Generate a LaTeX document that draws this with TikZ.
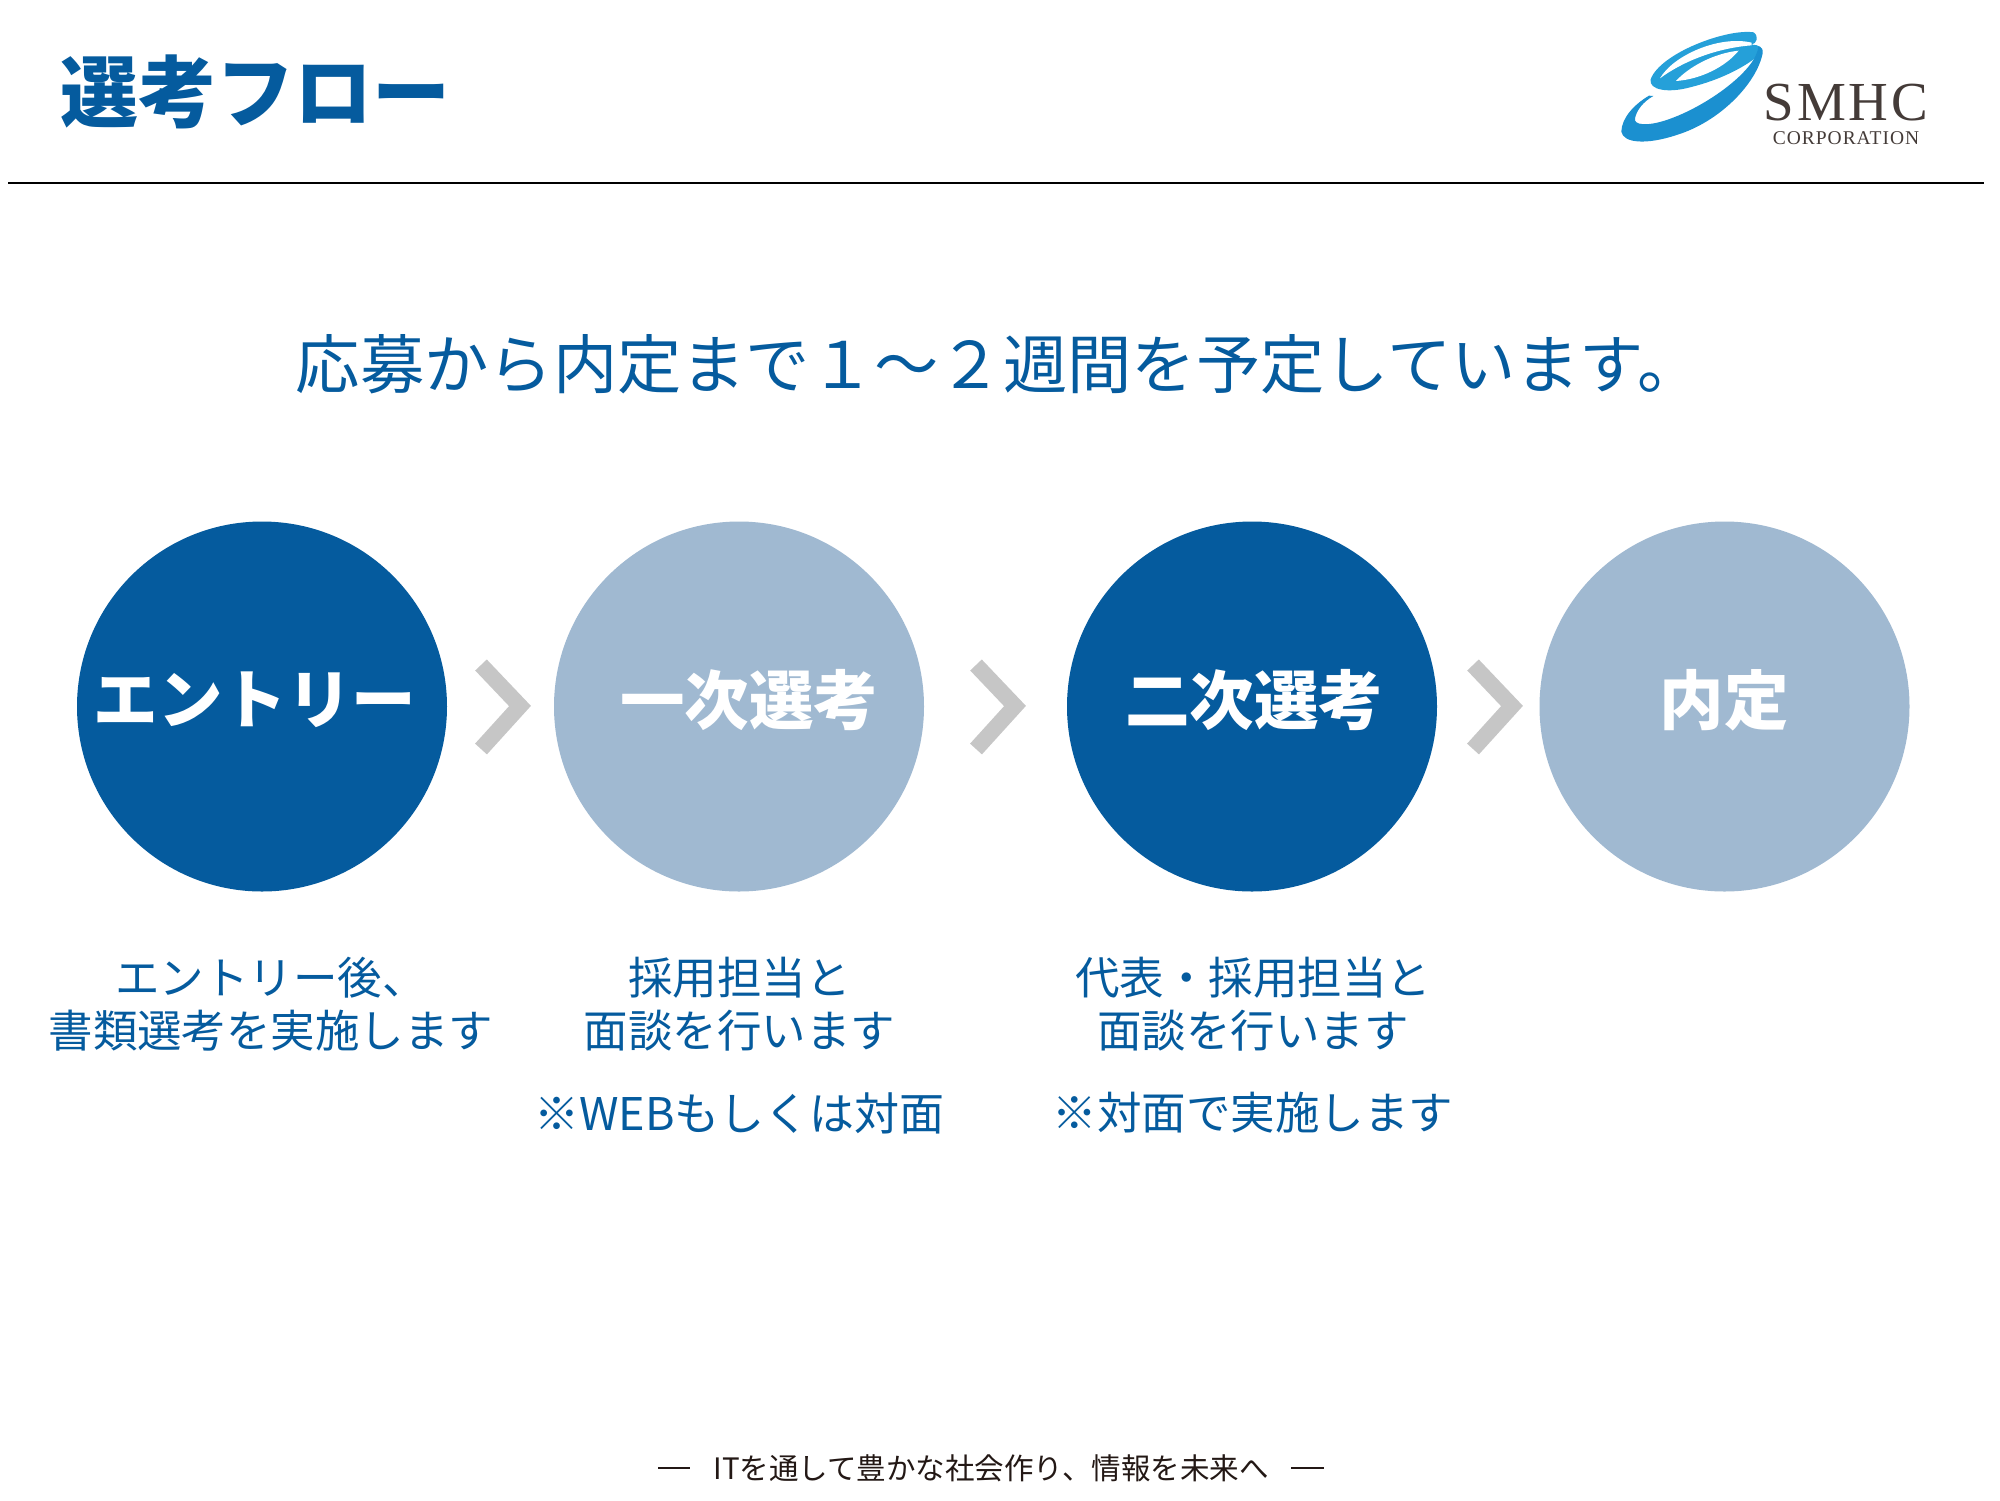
\documentclass[tikz,border=0pt]{standalone}
\usepackage{fontspec}
\setmainfont{Noto Sans CJK JP}
\newfontfamily\logofont[LetterSpace=5]{Liberation Serif}
\definecolor{navy}{HTML}{055B9E}
\definecolor{pale}{HTML}{A0B9D1}
\definecolor{chev}{HTML}{C6C6C6}
\definecolor{swoosh}{HTML}{25A0D9}
\definecolor{swooshb}{HTML}{1B90D0}
\definecolor{ink}{HTML}{231815}
\tikzset{
  x=1pt,y=-1pt,
  stepdark/.style={circle,fill=navy,minimum size=370pt,inner sep=0pt},
  steplight/.style={circle,fill=pale,minimum size=370pt,inner sep=0pt},
  steptext/.style={text=white,font=\fontsize{64.5pt}{64.5pt}\selectfont\bfseries,inner sep=0pt},
  desc/.style={text=navy,font=\fontsize{44.5pt}{53pt}\selectfont,align=center,inner sep=0pt},
  chevron/.style={draw=chev,line width=16pt,miter limit=10},
}
\begin{document}
\begin{tikzpicture}
\useasboundingbox (0,0) rectangle (2000,1500);
\fill[white] (0,0) rectangle (2000,1500);
\node[text=navy,font=\fontsize{78pt}{78pt}\selectfont\bfseries,anchor=west,inner sep=0pt] (title) at (60,92) {選考フロー};
\coordinate (ruleL) at (8,183);
\coordinate (ruleR) at (1984,183);
\draw[line width=2pt,black] (ruleL) -- (ruleR);
% logo
\begin{scope}[shift={(1580,10)},x=0.3333pt,y=-0.3333pt]
  \fill[swoosh] (521,67) .. controls (440,55) and (240,130) .. (212,208)
     .. controls (205,240) and (265,250) .. (330,232)
     .. controls (420,210) and (500,170) .. (545,128)
     .. controls (552,112) and (535,104) .. (515,104)
     .. controls (530,100) and (538,80) .. (521,67) -- cycle;
  \fill[white] (515,98) .. controls (420,75) and (280,135) .. (240,205)
     .. controls (300,160) and (400,115) .. (515,106) -- cycle;
  \fill[white] (476,122) .. controls (400,130) and (325,172) .. (288,213)
     .. controls (360,208) and (435,172) .. (476,122) -- cycle;
  \fill[swooshb] (207,257) .. controls (160,285) and (125,325) .. (124,365)
     .. controls (130,400) and (200,405) .. (290,375)
     .. controls (420,335) and (530,220) .. (548,130)
     .. controls (550,118) and (545,112) .. (535,110)
     .. controls (530,180) and (380,290) .. (260,330)
     .. controls (200,350) and (160,345) .. (165,325)
     .. controls (170,300) and (190,275) .. (220,258) -- cycle;
\end{scope}
\node[text=ink!85,font=\logofont\fontsize{55pt}{55pt}\selectfont,anchor=center,inner sep=0pt] (smhc) at (1846,103) {SMHC};
\node[text=ink!85,font=\logofont\fontsize{19.5pt}{19.5pt}\selectfont,anchor=center,inner sep=0pt] (corp) at (1846,138) {CORPORATION};
% headline
\node[text=navy,font=\fontsize{64.3pt}{64.3pt}\selectfont,inner sep=0pt] (head) at (999,364) {応募から内定まで１～２週間を予定しています。};
% circles
\node[stepdark] (c1) at (262,706.5) {};
\node[steplight] (c2) at (739,706.5) {};
\node[stepdark] (c3) at (1252,706.5) {};
\node[steplight] (c4) at (1724.5,706.5) {};
\node[steptext] (t1) at (255,700) {エントリー};
\node[steptext] (t2) at (749,700) {一次選考};
\node[steptext] (t3) at (1254,700) {二次選考};
\node[steptext] (t4) at (1724,700) {内定};
% chevrons
\draw[chevron] (481,665) -- (520,706) -- (481,749);
\draw[chevron] (976,665) -- (1015,706) -- (976,749);
\draw[chevron] (1473,665) -- (1512,706) -- (1473,749);
% descriptions
\node[desc] (d1) at (271,1004) {エントリー後、\\書類選考を実施します};
\node[desc] (d2) at (739.5,1004) {採用担当と\\面談を行います};
\node[desc] (d3) at (1253,1004) {代表・採用担当と\\面談を行います};
\node[desc,font=\fontsize{45pt}{53pt}\selectfont] (n2) at (739.5,1113) {※WEBもしくは対面};
\node[desc] (n3) at (1253,1113) {※対面で実施します};
% footer
\node[text=ink,font=\fontsize{29.5pt}{30pt}\selectfont,inner sep=0pt] (foot) at (991,1468) {ITを通して豊かな社会作り、情報を未来へ};
\coordinate (f1a) at (658,1468); \coordinate (f1b) at (690,1468);
\coordinate (f2a) at (1291,1468); \coordinate (f2b) at (1324,1468);
\draw[ink,line width=2.2pt] (f1a) -- (f1b);
\draw[ink,line width=2.2pt] (f2a) -- (f2b);
\end{tikzpicture}
\end{document}
